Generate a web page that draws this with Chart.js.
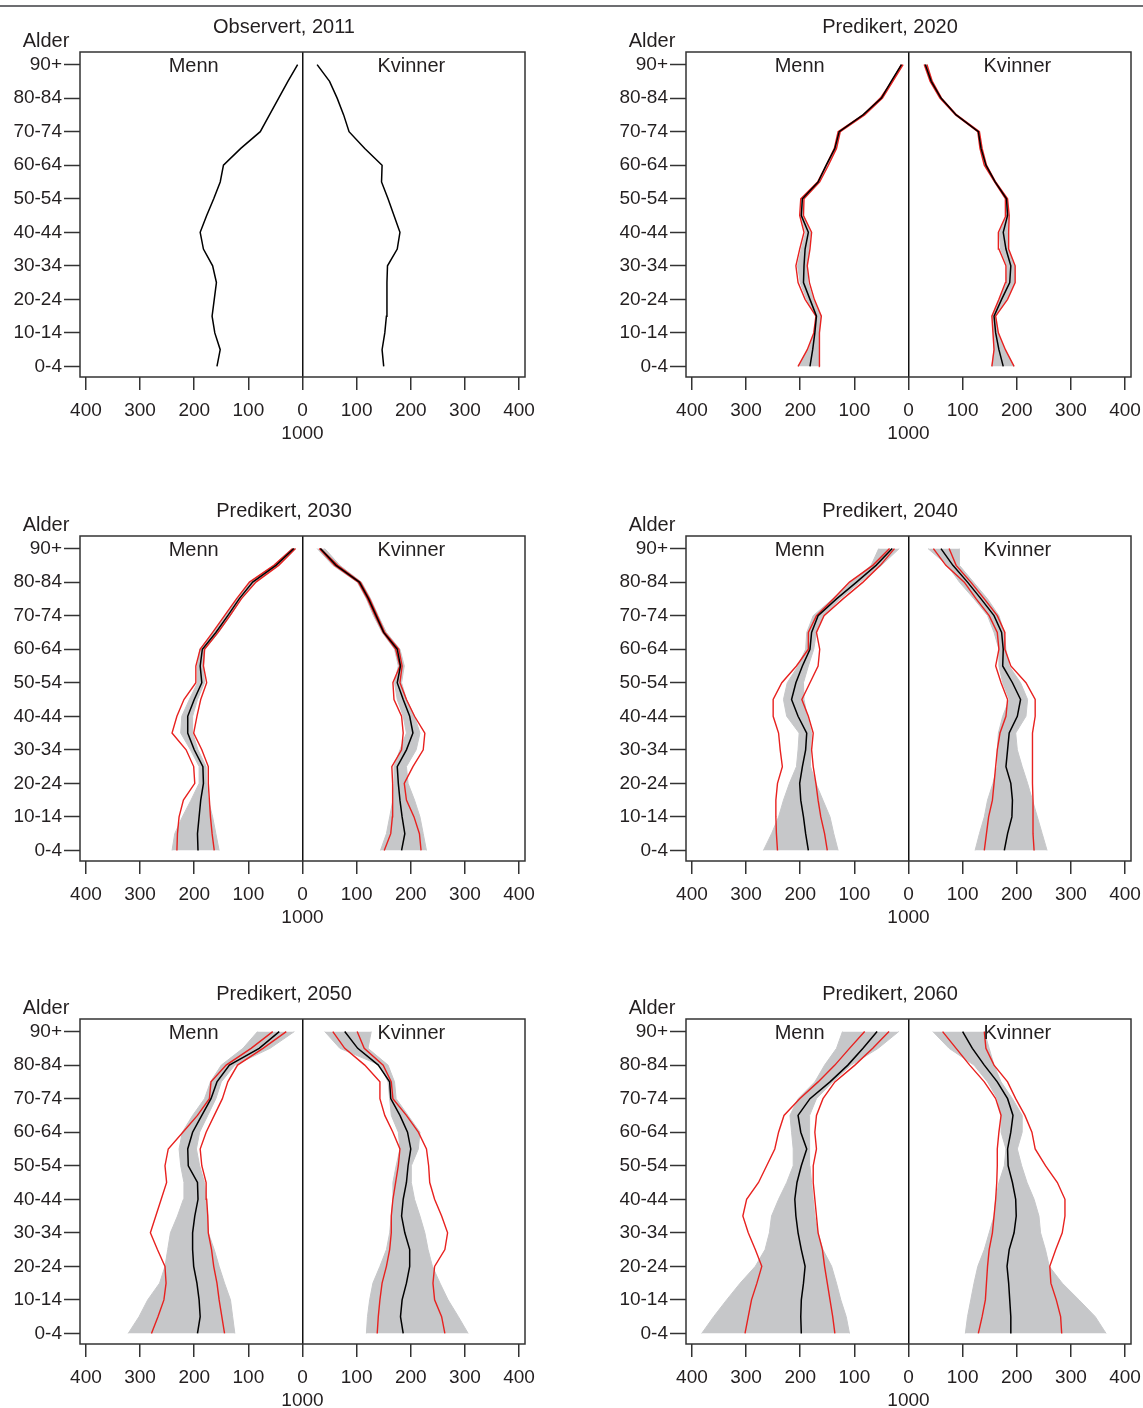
<!DOCTYPE html>
<html lang="no">
<head>
<meta charset="utf-8">
<title>Befolkningspyramider 2011-2060</title>
<script src="https://cdn.jsdelivr.net/npm/chart.js@4.4.1/dist/chart.umd.min.js"></script>
<style>
  html, body { margin: 0; padding: 0; background: #fff; }
  body { width: 1143px; height: 1408px; position: relative; overflow: hidden; }
  #topline { position: absolute; left: 0; top: 5px; width: 1143px; height: 2px; background: #6d6e71; }
  canvas { position: absolute; }
</style>
</head>
<body>
<div id="topline"></div>
<canvas id="c2011" width="537" height="450" style="left:0;top:0"></canvas>
<canvas id="c2020" width="537" height="450" style="left:606px;top:0"></canvas>
<canvas id="c2030" width="537" height="450" style="left:0;top:484px"></canvas>
<canvas id="c2040" width="537" height="450" style="left:606px;top:484px"></canvas>
<canvas id="c2050" width="537" height="450" style="left:0;top:967px"></canvas>
<canvas id="c2060" width="537" height="450" style="left:606px;top:967px"></canvas>
<script>
// age groups, index 0 = 0-4 ... 18 = 90+
const ageGroups = ['0-4', '5-9', '10-14', '15-19', '20-24', '25-29', '30-34', '35-39', '40-44', '45-49',
                   '50-54', '55-59', '60-64', '65-69', '70-74', '75-79', '80-84', '85-89', '90+'];
const yTicks = [0, 2, 4, 6, 8, 10, 12, 14, 16, 18];
const xTicks = [-400, -300, -200, -100, 0, 100, 200, 300, 400];

// values in 1000 persons
const m2011 = [158, 152, 162, 167, 163, 159, 166, 183, 189, 177, 164, 152, 146, 114, 78, 61, 44, 27, 9];
const f2011 = [150, 147, 152, 155, 156, 156, 157, 175, 180, 169, 158, 146, 147, 115, 86, 76, 64, 50, 27];

const m2020Med     = [182, 177, 173, 170, 182, 194, 193, 191, 185, 198, 196, 167, 152, 136, 128, 84, 50, 32, 13];
const m2020RedOut  = [204, 187, 175, 171, 191, 204, 208, 201, 193, 201, 199, 168, 152, 137, 130, 84, 52, 31, 13];
const m2020RedIn   = [164, 165, 164, 161, 174, 183, 187, 182, 179, 194, 193, 164, 148, 133, 126, 81, 48, 29, 10];
const m2020GrayOut = [204, 185, 174, 170, 188, 200, 205, 198, 190, 199, 198, 167, 151, 136, 129, 83, 51, 31, 12];
const m2020GrayIn  = [164, 166, 165, 162, 176, 186, 188, 184, 181, 195, 194, 165, 149, 134, 127, 82, 49, 29, 11];
const f2020Med     = [175, 167, 161, 158, 172, 187, 189, 180, 175, 183, 181, 160, 143, 134, 129, 88, 60, 42, 31];
const f2020RedOut  = [195, 179, 166, 161, 183, 197, 197, 185, 185, 186, 183, 161, 144, 136, 131, 89, 61, 44, 34];
const f2020RedIn   = [154, 158, 156, 154, 167, 179, 180, 167, 166, 180, 179, 159, 140, 132, 128, 87, 58, 40, 29];
const f2020GrayOut = [195, 178, 165, 160, 181, 195, 196, 183, 183, 185, 182, 161, 144, 135, 130, 89, 60, 43, 33];
const f2020GrayIn  = [154, 158, 157, 155, 168, 181, 182, 170, 168, 181, 180, 159, 141, 133, 129, 87, 59, 41, 30];

const m2030Med     = [193, 194, 191, 188, 183, 184, 200, 212, 212, 200, 186, 189, 185, 160, 138, 117, 92, 49, 16];
const m2030RedOut  = [232, 231, 228, 220, 199, 201, 215, 241, 232, 219, 197, 197, 189, 166, 144, 122, 98, 53, 18];
const m2030RedIn   = [163, 167, 170, 172, 174, 174, 186, 201, 195, 188, 177, 183, 181, 156, 134, 113, 86, 44, 13];
const m2030GrayOut = [241, 236, 222, 206, 191, 191, 207, 225, 223, 209, 194, 194, 190, 165, 143, 121, 97, 53, 20];
const m2030GrayIn  = [154, 160, 166, 174, 177, 178, 193, 203, 203, 194, 181, 183, 180, 155, 133, 113, 87, 44, 12];
const f2030Med     = [183, 189, 184, 180, 177, 175, 192, 204, 198, 186, 175, 181, 175, 150, 136, 122, 105, 62, 33];
const f2030RedOut  = [219, 216, 206, 192, 188, 204, 223, 226, 207, 192, 180, 184, 178, 152, 138, 124, 107, 65, 33];
const f2030RedIn   = [151, 163, 166, 166, 167, 165, 183, 186, 183, 169, 167, 180, 172, 149, 134, 120, 103, 59, 31];
const f2030GrayOut = [229, 223, 217, 207, 195, 192, 210, 217, 207, 192, 183, 188, 180, 155, 140, 126, 109, 69, 41];
const f2030GrayIn  = [144, 155, 161, 167, 169, 169, 180, 192, 186, 175, 170, 177, 170, 147, 131, 118, 101, 56, 27];

const m2040Med     = [185, 190, 194, 199, 201, 196, 190, 188, 204, 216, 208, 196, 182, 179, 167, 133, 96, 60, 30];
const m2040RedOut  = [242, 244, 245, 245, 242, 233, 237, 240, 250, 250, 234, 207, 185, 185, 170, 139, 109, 66, 35];
const m2040RedIn   = [150, 155, 162, 167, 171, 176, 179, 176, 185, 197, 182, 167, 164, 170, 156, 121, 84, 52, 26];
const m2040GrayOut = [268, 253, 240, 231, 220, 207, 204, 202, 225, 231, 224, 204, 190, 188, 176, 140, 106, 69, 55];
const m2040GrayIn  = [130, 138, 145, 158, 171, 181, 181, 179, 187, 193, 194, 185, 175, 170, 158, 126, 89, 50, 17];
const f2040Med     = [177, 183, 191, 192, 189, 180, 183, 186, 201, 207, 192, 174, 175, 172, 158, 134, 109, 82, 60];
const f2040RedOut  = [232, 230, 230, 230, 229, 229, 229, 229, 234, 234, 217, 189, 178, 178, 164, 140, 115, 88, 75];
const f2040RedIn   = [140, 144, 148, 155, 158, 161, 164, 169, 180, 183, 171, 161, 167, 164, 149, 125, 103, 69, 46];
const f2040GrayOut = [256, 247, 238, 229, 220, 210, 201, 198, 217, 220, 207, 186, 180, 177, 167, 146, 120, 94, 94];
const f2040GrayIn  = [123, 131, 140, 146, 156, 164, 164, 166, 174, 186, 174, 167, 167, 158, 146, 121, 94, 72, 36];

const m2050Med     = [194, 189, 191, 195, 201, 203, 203, 199, 193, 194, 211, 212, 203, 186, 169, 158, 135, 80, 43];
const m2050RedOut  = [279, 267, 256, 252, 254, 268, 281, 271, 261, 251, 254, 248, 221, 194, 172, 169, 141, 95, 55];
const m2050RedIn   = [144, 149, 154, 158, 164, 168, 174, 175, 177, 178, 186, 189, 178, 163, 148, 138, 120, 73, 30];
const m2050GrayOut = [322, 302, 286, 264, 254, 249, 244, 231, 220, 219, 225, 228, 222, 203, 181, 170, 150, 110, 83];
const m2050GrayIn  = [125, 129, 133, 144, 154, 163, 174, 175, 178, 181, 190, 196, 190, 175, 160, 150, 125, 60, 15];
const f2050Med     = [186, 181, 184, 192, 198, 198, 189, 183, 186, 192, 195, 200, 194, 180, 163, 161, 140, 102, 78];
const f2050RedOut  = [263, 257, 244, 241, 244, 263, 268, 257, 244, 235, 233, 229, 214, 192, 167, 164, 149, 114, 101];
const f2050RedIn   = [138, 140, 143, 147, 155, 161, 164, 164, 167, 172, 177, 180, 167, 152, 143, 143, 115, 78, 56];
const f2050GrayOut = [306, 288, 269, 254, 240, 232, 226, 217, 207, 201, 201, 214, 217, 195, 173, 170, 158, 121, 127];
const f2050GrayIn  = [118, 120, 124, 130, 143, 155, 161, 164, 167, 167, 173, 180, 177, 164, 161, 158, 143, 69, 41];

const m2060Med     = [198, 199, 198, 194, 191, 198, 204, 208, 210, 206, 198, 188, 199, 204, 182, 145, 112, 84, 58];
const m2060RedOut  = [302, 296, 290, 280, 271, 283, 296, 306, 299, 277, 262, 247, 240, 230, 201, 167, 136, 109, 81];
const m2060RedIn   = [136, 140, 145, 150, 155, 159, 167, 170, 173, 176, 176, 170, 173, 170, 158, 136, 99, 66, 36];
const m2060GrayOut = [382, 360, 336, 311, 283, 265, 257, 253, 240, 225, 213, 213, 216, 219, 204, 173, 155, 133, 122];
const m2060GrayIn  = [109, 115, 125, 133, 142, 158, 167, 173, 176, 179, 182, 183, 182, 183, 170, 140, 106, 56, 18];
const f2060Med     = [189, 189, 187, 185, 182, 186, 195, 199, 198, 192, 184, 183, 189, 193, 183, 164, 140, 118, 100];
const f2060RedOut  = [283, 281, 273, 263, 261, 272, 284, 289, 289, 275, 253, 234, 228, 215, 198, 183, 158, 143, 140];
const f2060RedIn   = [129, 136, 142, 144, 146, 149, 155, 158, 161, 163, 164, 164, 167, 171, 161, 140, 113, 88, 63];
const f2060GrayOut = [365, 345, 315, 284, 260, 253, 244, 241, 232, 219, 209, 201, 210, 210, 192, 171, 158, 149, 140];
const f2060GrayIn  = [105, 109, 115, 121, 128, 140, 149, 158, 161, 167, 177, 180, 171, 171, 164, 146, 121, 75, 45];

const panels = [
    { id: 'c2011', title: 'Observert, 2011', men: { med: m2011 }, women: { med: f2011 } },
    { id: 'c2020', title: 'Predikert, 2020',
      men:   { med: m2020Med, out: m2020RedOut, inn: m2020RedIn, gOut: m2020GrayOut, gIn: m2020GrayIn },
      women: { med: f2020Med, out: f2020RedOut, inn: f2020RedIn, gOut: f2020GrayOut, gIn: f2020GrayIn } },
    { id: 'c2030', title: 'Predikert, 2030',
      men:   { med: m2030Med, out: m2030RedOut, inn: m2030RedIn, gOut: m2030GrayOut, gIn: m2030GrayIn },
      women: { med: f2030Med, out: f2030RedOut, inn: f2030RedIn, gOut: f2030GrayOut, gIn: f2030GrayIn } },
    { id: 'c2040', title: 'Predikert, 2040',
      men:   { med: m2040Med, out: m2040RedOut, inn: m2040RedIn, gOut: m2040GrayOut, gIn: m2040GrayIn },
      women: { med: f2040Med, out: f2040RedOut, inn: f2040RedIn, gOut: f2040GrayOut, gIn: f2040GrayIn } },
    { id: 'c2050', title: 'Predikert, 2050',
      men:   { med: m2050Med, out: m2050RedOut, inn: m2050RedIn, gOut: m2050GrayOut, gIn: m2050GrayIn },
      women: { med: f2050Med, out: f2050RedOut, inn: f2050RedIn, gOut: f2050GrayOut, gIn: f2050GrayIn } },
    { id: 'c2060', title: 'Predikert, 2060',
      men:   { med: m2060Med, out: m2060RedOut, inn: m2060RedIn, gOut: m2060GrayOut, gIn: m2060GrayIn },
      women: { med: f2060Med, out: f2060RedOut, inn: f2060RedIn, gOut: f2060GrayOut, gIn: f2060GrayIn } }
];

const FONT = '"Liberation Sans", Arial, Helvetica, sans-serif';
const TEXT = '#231f20';
const RED = '#e8211f';
const GRAY = '#c6c7c9';

// men are drawn to the left (negative x)
function lineSet(vals, sign, color, width) {
    return {
        data: vals.map((v, i) => ({ x: sign * v, y: i })),
        borderColor: color,
        borderWidth: width,
        pointRadius: 0,
        tension: 0,
        fill: false
    };
}

function bandSet(outer, inner, sign) {
    const a = lineSet(outer, sign, GRAY, 1);
    a.fill = '+1';
    a.backgroundColor = GRAY;
    const b = lineSet(inner, sign, GRAY, 1);
    return [a, b];
}

function buildDatasets(p) {
    // first dataset is drawn on top
    const ds = [lineSet(p.men.med, -1, '#000', 1.5), lineSet(p.women.med, 1, '#000', 1.5)];
    if (p.men.out) {
        ds.push(lineSet(p.men.out, -1, RED, 1.4), lineSet(p.men.inn, -1, RED, 1.4));
        ds.push(lineSet(p.women.out, 1, RED, 1.4), lineSet(p.women.inn, 1, RED, 1.4));
        ds.push(...bandSet(p.men.gOut, p.men.gIn, -1), ...bandSet(p.women.gOut, p.women.gIn, 1));
    }
    return ds;
}

// frame and texts around the plot
const decor = {
    id: 'decor',
    afterDraw(chart, args, opts) {
        const { ctx, chartArea: a, scales } = chart;
        ctx.save();
        ctx.strokeStyle = '#333';
        ctx.lineWidth = 1.5;
        ctx.strokeRect(a.left, a.top, a.right - a.left, a.bottom - a.top);

        ctx.fillStyle = TEXT;
        ctx.textBaseline = 'middle';
        ctx.textAlign = 'center';
        ctx.font = '20px ' + FONT;
        ctx.fillText(opts.title, 284, 27);
        ctx.fillText('Alder', 46, 41);
        const yTop = scales.y.getPixelForValue(18) + 2;
        ctx.fillText('Menn', scales.x.getPixelForValue(-201), yTop);
        ctx.fillText('Kvinner', scales.x.getPixelForValue(201), yTop);
        ctx.font = '19px ' + FONT;
        ctx.fillText('1000', scales.x.getPixelForValue(0), 434);
        ctx.restore();
    }
};

panels.forEach(p => {
    new Chart(document.getElementById(p.id), {
        type: 'line',
        data: { datasets: buildDatasets(p) },
        plugins: [decor],
        options: {
            responsive: false,
            animation: false,
            indexAxis: 'y',
            layout: { padding: { left: 0, right: 12, top: 52, bottom: 0 } },
            plugins: {
                legend: { display: false },
                tooltip: { enabled: false },
                decor: { title: p.title }
            },
            scales: {
                x: {
                    type: 'linear',
                    min: -411,
                    max: 411,
                    afterBuildTicks: ax => { ax.ticks = xTicks.map(v => ({ value: v })); },
                    afterFit: ax => { ax.height = 73; ax.paddingLeft = 0; ax.paddingRight = 0; },
                    ticks: {
                        callback: v => String(Math.abs(v)),
                        color: TEXT,
                        font: { family: FONT, size: 19 },
                        padding: 9,
                        maxRotation: 0,
                        autoSkip: false
                    },
                    grid: {
                        color: c => (c.tick && c.tick.value === 0) ? '#111' : 'rgba(0,0,0,0)',
                        lineWidth: 1.5,
                        tickColor: '#333',
                        tickWidth: 1.5,
                        tickLength: 13
                    },
                    border: { display: false }
                },
                y: {
                    type: 'linear',
                    min: -0.63,
                    max: 18.75,
                    afterBuildTicks: ax => { ax.ticks = yTicks.map(v => ({ value: v })); },
                    afterFit: ax => { ax.width = 80; ax.paddingTop = 0; ax.paddingBottom = 0; },
                    ticks: {
                        callback: v => ageGroups[v],
                        color: TEXT,
                        font: { family: FONT, size: 19 },
                        padding: 2,
                        autoSkip: false
                    },
                    grid: {
                        drawOnChartArea: false,
                        tickColor: '#333',
                        tickWidth: 1.5,
                        tickLength: 16
                    },
                    border: { display: false }
                }
            }
        }
    });
});
</script>
</body>
</html>
